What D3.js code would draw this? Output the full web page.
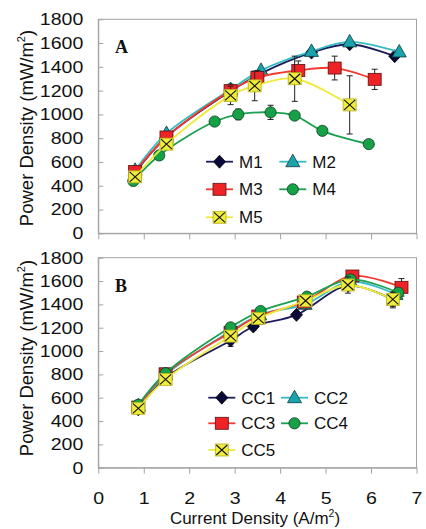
<!DOCTYPE html>
<html>
<head>
<meta charset="utf-8">
<script src="https://cdn.jsdelivr.net/npm/d3@7"></script>
<style>
  body { margin: 0; background: #fff; }
  svg { display: block; }
</style>
</head>
<body>
<div id="chart"></div>
<script>
// ---- data ----
const xTicks = [0, 1, 2, 3, 4, 5, 6, 7];
const yTicks = [0, 200, 400, 600, 800, 1000, 1200, 1400, 1600, 1800];

// panel A
const m1X = [0.81, 1.50, 2.91, 3.58, 4.69, 5.53, 6.52];
const m1Y = [510, 810, 1195, 1345, 1520, 1590, 1490];
const m2X = [0.81, 1.50, 2.91, 3.58, 4.69, 5.53, 6.62];
const m2Y = [530, 840, 1210, 1370, 1530, 1610, 1525];
const m3X = [0.81, 1.50, 2.91, 3.50, 4.40, 5.20, 6.08];
const m3Y = [520, 810, 1200, 1310, 1370, 1390, 1295];
const m3Err = [30, 30, 55, 60, 80, 100, 85];
const m4X = [0.77, 1.34, 2.56, 3.08, 3.79, 4.32, 4.93, 5.95];
const m4Y = [440, 655, 940, 1000, 1017, 990, 862, 750];
const m4Err = [0, 0, 0, 45, 60, 0, 0, 0];
const m5X = [0.81, 1.50, 2.91, 3.44, 4.32, 5.53];
const m5Y = [475, 750, 1160, 1240, 1300, 1080];
const m5Err = [20, 30, 78, 125, 190, 245];

// panel B
const cc1X = [0.88, 1.48, 2.91, 3.41, 4.36, 5.50, 6.48];
const cc1Y = [500, 770, 1090, 1210, 1310, 1560, 1440];
const cc1Err = [30, 40, 50, 30, 30, 40, 70];
const cc2X = [0.88, 1.48, 2.91, 3.55, 4.55, 5.55, 6.55];
const cc2Y = [530, 795, 1170, 1310, 1400, 1595, 1485];
const cc3X = [0.88, 1.48, 2.91, 3.52, 4.52, 5.59, 6.67];
const cc3Y = [520, 805, 1160, 1300, 1420, 1643, 1546];
const cc3Err = [20, 20, 30, 30, 40, 40, 75];
const cc4X = [0.88, 1.48, 2.91, 3.57, 4.59, 5.55, 6.60];
const cc4Y = [540, 810, 1203, 1343, 1466, 1614, 1500];
const cc5X = [0.88, 1.48, 2.91, 3.52, 4.56, 5.49, 6.48];
const cc5Y = [509, 757, 1128, 1280, 1431, 1566, 1443];
const cc5Err = [20, 30, 40, 40, 40, 70, 60];

const zip = (xs, ys, es) => xs.map((v, i) => ({ x: v, y: ys[i], e: es ? es[i] : 0 }));

const styles = {
  diamond: { line: '#1c1c5c', fill: '#0a0a3a', stroke: '#000' },
  triangle: { line: '#35bcc4', fill: '#1ba3ad', stroke: '#0b3a40' },
  square: { line: '#f23a30', fill: '#ee2328', stroke: '#5a1010' },
  circle: { line: '#1aa050', fill: '#17a147', stroke: '#0b3d1e' },
  xbox: { line: '#eeea3a', fill: '#efec3a', stroke: '#b5b020' }
};

const panels = [
  {
    letter: 'A', top: 19.3, bottom: 233.3, showX: false, titleY: 128,
    legendY: [161.7, 189.3, 217.3], legendX: [206, 279.3],
    series: [
      { name: 'M1', sym: 'diamond', pts: zip(m1X, m1Y) },
      { name: 'M2', sym: 'triangle', pts: zip(m2X, m2Y) },
      { name: 'M3', sym: 'square', pts: zip(m3X, m3Y, m3Err) },
      { name: 'M4', sym: 'circle', pts: zip(m4X, m4Y, m4Err) },
      { name: 'M5', sym: 'xbox', pts: zip(m5X, m5Y, m5Err) }
    ]
  },
  {
    letter: 'B', top: 257.7, bottom: 467.7, showX: true, titleY: 358,
    legendY: [397.7, 423.3, 450], legendX: [208.3, 281],
    series: [
      { name: 'CC1', sym: 'diamond', pts: zip(cc1X, cc1Y, cc1Err) },
      { name: 'CC2', sym: 'triangle', pts: zip(cc2X, cc2Y) },
      { name: 'CC3', sym: 'square', pts: zip(cc3X, cc3Y, cc3Err) },
      { name: 'CC4', sym: 'circle', pts: zip(cc4X, cc4Y) },
      { name: 'CC5', sym: 'xbox', pts: zip(cc5X, cc5Y, cc5Err) }
    ]
  }
];

const W = 426, H = 529;
const font = 'Liberation Sans, Arial, Helvetica, sans-serif';
const stretch = 1.15;

const svg = d3.select('#chart').append('svg')
  .attr('width', W).attr('height', H)
  .style('font-family', font);

const x = d3.scaleLinear().domain([0, 7]).range([98.3, 416.5]);

function marker(g, sym, cx, cy) {
  const s = styles[sym];
  if (sym === 'diamond') {
    g.append('path').attr('d', `M${cx},${cy - 6.5}L${cx + 6},${cy}L${cx},${cy + 6.5}L${cx - 6},${cy}Z`)
      .attr('fill', s.fill).attr('stroke', s.stroke).attr('stroke-width', 0.8);
  } else if (sym === 'triangle') {
    g.append('path').attr('d', `M${cx},${cy - 7.5}L${cx + 7},${cy + 5}L${cx - 7},${cy + 5}Z`)
      .attr('fill', s.fill).attr('stroke', s.stroke).attr('stroke-width', 0.8);
  } else if (sym === 'square') {
    g.append('rect').attr('x', cx - 6.5).attr('y', cy - 6).attr('width', 13).attr('height', 12)
      .attr('fill', s.fill).attr('stroke', s.stroke).attr('stroke-width', 0.8);
  } else if (sym === 'circle') {
    g.append('circle').attr('cx', cx).attr('cy', cy).attr('r', 5.6)
      .attr('fill', s.fill).attr('stroke', s.stroke).attr('stroke-width', 0.8);
  } else {
    g.append('rect').attr('x', cx - 6.5).attr('y', cy - 6).attr('width', 13).attr('height', 12)
      .attr('fill', s.fill).attr('stroke', s.stroke).attr('stroke-width', 0.8);
    g.append('path').attr('d', `M${cx - 5.5},${cy - 5}L${cx + 5.5},${cy + 5}M${cx + 5.5},${cy - 5}L${cx - 5.5},${cy + 5}`)
      .attr('stroke', '#111').attr('stroke-width', 1.1);
  }
}

panels.forEach(function (p) {
  const y = d3.scaleLinear().domain([0, 1800]).range([p.bottom, p.top]);
  const g = svg.append('g');

  // plot frame
  g.append('rect')
    .attr('x', x(0)).attr('y', y(1800))
    .attr('width', x(7) - x(0)).attr('height', y(0) - y(1800))
    .attr('fill', 'none').attr('stroke', '#a3a3a3').attr('stroke-width', 1);

  // y axis, ticks point inward
  const ya = g.append('g')
    .attr('transform', 'translate(' + x(0) + ',0)')
    .call(d3.axisLeft(y).tickValues(yTicks).tickFormat(d3.format('d'))
      .tickSize(-5).tickSizeOuter(0).tickPadding(15));
  ya.select('.domain').attr('stroke', '#a3a3a3');
  ya.selectAll('line').attr('stroke', '#a3a3a3');
  ya.selectAll('text')
    .attr('font-size', 17).attr('font-family', font).attr('fill', '#111')
    .attr('x', -15 / stretch)
    .attr('transform', 'scale(' + stretch + ',1)');

  // x axis, ticks point outward
  const xa = g.append('g')
    .attr('transform', 'translate(0,' + y(0) + ')')
    .call(d3.axisBottom(x).tickValues(xTicks).tickSize(6).tickSizeOuter(0).tickPadding(18)
      .tickFormat(p.showX ? d3.format('d') : ''));
  xa.select('.domain').attr('stroke', '#a3a3a3');
  xa.selectAll('line').attr('stroke', '#a3a3a3');
  xa.selectAll('text')
    .attr('font-size', 17).attr('font-family', font).attr('fill', '#111')
    .attr('transform', 'scale(' + stretch + ',1)');

  // y title
  const yt = g.append('text')
    .attr('transform', 'translate(33,' + p.titleY + ') rotate(-90)')
    .attr('text-anchor', 'middle')
    .attr('font-size', 18.5).attr('fill', '#111');
  yt.append('tspan').text('Power Density (mW/m');
  yt.append('tspan').attr('font-size', 11).attr('dy', -8).text('2');
  yt.append('tspan').attr('dy', 8).text(')');

  // panel letter
  g.append('text')
    .attr('x', 115).attr('y', y(1800) + 34)
    .attr('font-family', 'Liberation Serif, Times New Roman, serif')
    .attr('font-weight', 'bold').attr('font-size', 18).attr('fill', '#111')
    .text(p.letter);

  const line = d3.line()
    .x(function (d) { return x(d.x); })
    .y(function (d) { return y(d.y); })
    .curve(d3.curveCatmullRom.alpha(0.5));

  p.series.forEach(function (s) {
    const st = styles[s.sym];
    const sg = g.append('g');
    sg.append('path').datum(s.pts)
      .attr('d', line).attr('fill', 'none')
      .attr('stroke', st.line).attr('stroke-width', 1.8);

    // error bars
    const eb = s.pts.filter(function (d) { return d.e > 0; });
    sg.selectAll('line.err').data(eb).enter().append('line')
      .attr('x1', function (d) { return x(d.x); }).attr('x2', function (d) { return x(d.x); })
      .attr('y1', function (d) { return y(d.y - d.e); }).attr('y2', function (d) { return y(d.y + d.e); })
      .attr('stroke', '#222').attr('stroke-width', 1);
    sg.selectAll('path.cap').data(eb).enter().append('path')
      .attr('d', function (d) {
        const cx = x(d.x);
        return 'M' + (cx - 3) + ',' + y(d.y - d.e) + 'H' + (cx + 3) +
          'M' + (cx - 3) + ',' + y(d.y + d.e) + 'H' + (cx + 3);
      })
      .attr('stroke', '#222').attr('stroke-width', 1);

    s.pts.forEach(function (d) { marker(sg, s.sym, x(d.x), y(d.y)); });
  });

  // legend
  p.series.forEach(function (s, i) {
    const lx = p.legendX[i % 2], ly = p.legendY[Math.floor(i / 2)];
    const st = styles[s.sym];
    const lg = g.append('g');
    lg.append('line').attr('x1', lx).attr('x2', lx + 27).attr('y1', ly).attr('y2', ly)
      .attr('stroke', st.line).attr('stroke-width', 1.8);
    marker(lg, s.sym, lx + 13.5, ly);
    lg.append('text').attr('x', lx + 33).attr('y', ly + 6)
      .attr('font-size', 17).attr('fill', '#111').text(s.name);
  });
});

// x title
const xt = svg.append('text')
  .attr('x', 255).attr('y', 524)
  .attr('text-anchor', 'middle')
  .attr('font-size', 17).attr('fill', '#111');
xt.append('tspan').text('Current Density (A/m');
xt.append('tspan').attr('font-size', 10.5).attr('dy', -7).text('2');
xt.append('tspan').attr('dy', 7).text(')');
</script>
</body>
</html>
